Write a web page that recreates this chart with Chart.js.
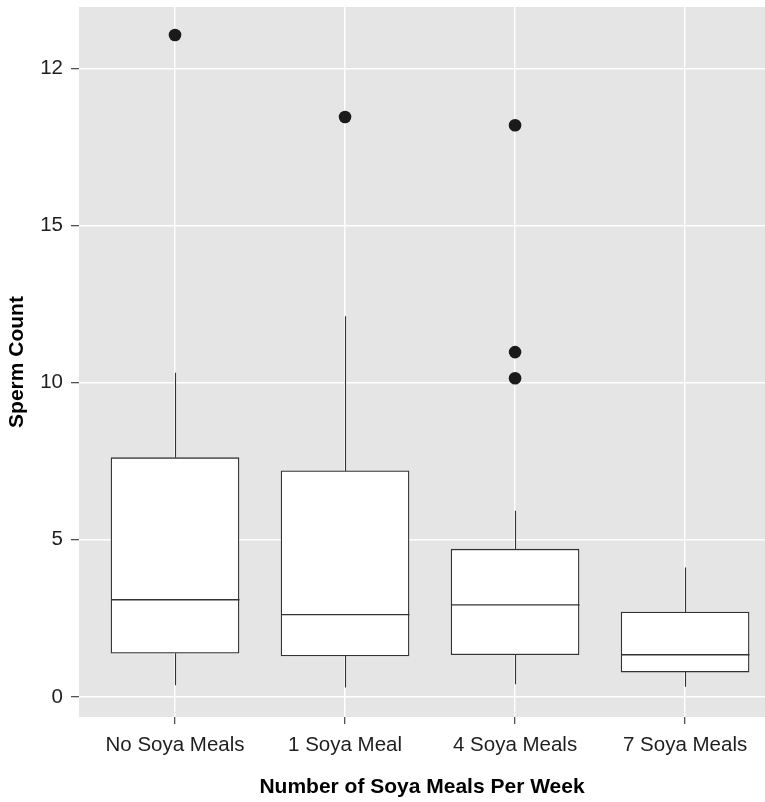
<!DOCTYPE html>
<html lang="en">
<head>
    <meta charset="UTF-8">
    <title>Sperm Count by Soya Meals</title>
    <script src="https://cdn.jsdelivr.net/npm/chart.js@4.4.1/dist/chart.umd.min.js"></script>
    <style>
        html, body {
            margin: 0;
            padding: 0;
            background: #ffffff;
        }
        canvas {
            display: block;
        }
    </style>
</head>
<body>
    <canvas id="boxChart" width="765" height="802"></canvas>

    <script>
        // values
        const categories = ['No Soya Meals', '1 Soya Meal', '4 Soya Meals', '7 Soya Meals'];
        const whiskerLow = [0.37, 0.30, 0.40, 0.32];
        const lowerQuartile = [1.39, 1.30, 1.34, 0.79];
        const medians = [3.09, 2.62, 2.93, 1.34];
        const upperQuartile = [7.61, 7.19, 4.70, 2.70];
        const whiskerHigh = [10.31, 12.11, 5.92, 4.12];
        const outlierGroup = [0, 1, 2, 2, 2];
        const outlierValue = [21.06, 18.45, 18.19, 10.97, 10.14];
        const yTickValues = [0, 5, 10, 15, 20];
        const yTickLabels = ['0', '5', '10', '15', '12'];

        const fontFamily = "'Liberation Sans', Arial, sans-serif";

        const panelBackground = {
            id: 'panelBackground',
            beforeDraw(chart) {
                const {ctx, chartArea} = chart;
                ctx.save();
                ctx.fillStyle = '#e5e5e5';
                ctx.fillRect(chartArea.left, chartArea.top, chartArea.right - chartArea.left, chartArea.bottom - chartArea.top);
                ctx.restore();
            }
        };

        // whiskers and median lines, placed with the chart's scales
        const boxLines = {
            id: 'boxLines',
            afterDatasetsDraw(chart) {
                const {ctx, scales: {x, y}} = chart;
                const half = chart.getDatasetMeta(0).data[0].width / 2;
                ctx.save();
                ctx.strokeStyle = '#333333';
                categories.forEach((c, i) => {
                    const px = Math.round(x.getPixelForValue(i + 1)) + 0.5;
                    ctx.lineWidth = 1.1;
                    ctx.beginPath();
                    ctx.moveTo(px, y.getPixelForValue(upperQuartile[i]));
                    ctx.lineTo(px, y.getPixelForValue(whiskerHigh[i]));
                    ctx.moveTo(px, y.getPixelForValue(lowerQuartile[i]));
                    ctx.lineTo(px, y.getPixelForValue(whiskerLow[i]));
                    ctx.stroke();
                    const my = y.getPixelForValue(medians[i]);
                    ctx.lineWidth = 1.3;
                    ctx.beginPath();
                    ctx.moveTo(px - half, my);
                    ctx.lineTo(px + half, my);
                    ctx.stroke();
                });
                ctx.restore();
            }
        };

        const ctx = document.getElementById('boxChart').getContext('2d');
        const boxChart = new Chart(ctx, {
            type: 'bar',
            data: {
                datasets: [
                    {
                        type: 'bar',
                        data: categories.map((c, i) => ({x: i + 1, y: [lowerQuartile[i], upperQuartile[i]]})),
                        backgroundColor: '#ffffff',
                        borderColor: '#333333',
                        borderWidth: 1.3,
                        borderSkipped: false,
                        barThickness: 128,
                        order: 2
                    },
                    {
                        type: 'line',
                        data: outlierGroup.map((g, i) => ({x: g + 1, y: outlierValue[i]})),
                        showLine: false,
                        pointRadius: 6.3,
                        pointBackgroundColor: '#1a1a1a',
                        pointBorderColor: '#1a1a1a',
                        pointBorderWidth: 0,
                        order: 1
                    }
                ]
            },
            options: {
                responsive: false,
                animation: false,
                devicePixelRatio: 1,
                layout: {
                    autoPadding: false,
                    padding: {top: 7, right: 0, bottom: 1, left: 0}
                },
                plugins: {
                    legend: {display: false},
                    tooltip: {enabled: false}
                },
                scales: {
                    x: {
                        type: 'linear',
                        offset: false,
                        min: 0.4353,
                        max: 4.47,
                        afterBuildTicks: axis => {
                            axis.ticks = categories.map((c, i) => ({value: i + 1}));
                        },
                        afterFit: scale => {
                            scale.height = 84;
                            scale.paddingLeft = 0;
                            scale.paddingRight = 0;
                        },
                        border: {display: false},
                        grid: {
                            offset: false,
                            color: '#ffffff',
                            lineWidth: 1.4,
                            tickColor: '#333333',
                            tickWidth: 1.1,
                            tickLength: 7
                        },
                        ticks: {
                            autoSkip: false,
                            maxRotation: 0,
                            padding: 9,
                            color: '#1e1e1e',
                            font: {family: fontFamily, size: 20.5},
                            callback: (value) => categories[Math.round(value) - 1]
                        },
                        title: {
                            display: true,
                            text: 'Number of Soya Meals Per Week',
                            color: '#000000',
                            padding: {top: 0, bottom: 1},
                            font: {family: fontFamily, size: 21, weight: 'bold'}
                        }
                    },
                    y: {
                        type: 'linear',
                        min: -0.64,
                        max: 21.95,
                        afterBuildTicks: axis => {
                            axis.ticks = yTickValues.map(v => ({value: v}));
                        },
                        afterFit: scale => {
                            scale.width = 79;
                            scale.paddingTop = 0;
                            scale.paddingBottom = 0;
                        },
                        border: {display: false},
                        grid: {
                            color: '#ffffff',
                            lineWidth: 1.4,
                            tickColor: '#333333',
                            tickWidth: 1.1,
                            tickLength: 8
                        },
                        ticks: {
                            padding: 8,
                            color: '#1e1e1e',
                            font: {family: fontFamily, size: 20.5},
                            callback: (value, index) => yTickLabels[index]
                        },
                        title: {
                            display: true,
                            text: 'Sperm Count',
                            color: '#000000',
                            padding: {top: 5, bottom: 0},
                            font: {family: fontFamily, size: 21, weight: 'bold'}
                        }
                    }
                }
            },
            plugins: [panelBackground, boxLines]
        });
    </script>
</body>
</html>
